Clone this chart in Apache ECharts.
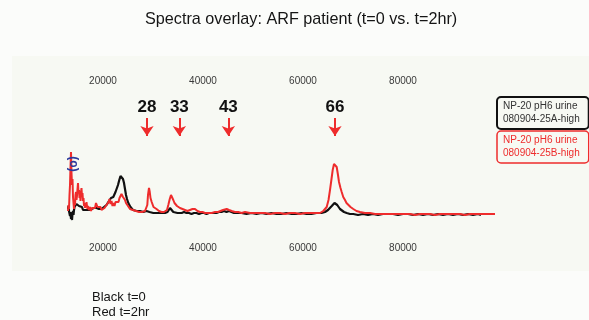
<!DOCTYPE html>
<html>
<head>
<meta charset="utf-8">
<script src="https://cdn.jsdelivr.net/npm/echarts@6/dist/echarts.min.js"></script>
<style>
  html, body { margin: 0; padding: 0; background: #fbfcfa; }
  #chart { width: 589px; height: 320px; }
</style>
</head>
<body>
<div id="chart"></div>
<script>
const FONT = "'Liberation Sans', Arial, sans-serif";

const blackName = 'NP-20 pH6 urine\n080904-25A-high';
const redName = 'NP-20 pH6 urine\n080904-25B-high';

const tickValues = [20000, 40000, 60000, 80000];

// peak annotations (kDa label, m/z position)
const peakLabels = ['28', '33', '43', '66'];
const peakMasses = [28800, 35270, 45070, 66400];

// t=0 spectrum [m/z, intensity]
const blackSpectrum = [
  [13000, 16], [13100, 19], [13200, 14], [13300, 12], [13400, 9], [13500, 13], [13600, 6],
  [13700, 9], [13800, 5], [13900, 11], [14000, 14], [14100, 10], [14200, 15], [14300, 18],
  [14400, 16], [14500, 19], [14600, 17], [14700, 21], [14800, 19], [14900, 23], [15000, 21],
  [15100, 22], [15200, 19], [15400, 20], [15600, 17], [15800, 18], [16000, 15], [16200, 16],
  [16400, 14], [16700, 15], [16900, 13], [17200, 15], [17400, 14], [17700, 16], [17900, 14],
  [18200, 17], [18400, 16], [18700, 17], [18900, 15], [19200, 16], [19400, 14], [19700, 16],
  [19900, 15], [20200, 18], [20400, 17], [20700, 20], [20900, 19], [21200, 24], [21400, 23],
  [21600, 27], [21800, 25], [22060, 28], [22300, 30], [22500, 33], [22740, 35], [23000, 40],
  [23260, 45], [23500, 49], [23740, 50], [24000, 46], [24200, 42], [24400, 36], [24600, 30],
  [24800, 26], [25060, 22], [25300, 20], [25500, 18], [25740, 17], [26000, 15], [26300, 16],
  [26740, 14], [27100, 13], [27400, 14], [27800, 12], [28060, 13], [28400, 12], [28700, 14],
  [29060, 15], [29300, 13], [29600, 14], [30060, 12], [30400, 13], [30700, 12], [31100, 13],
  [31400, 12], [31900, 12], [32400, 12], [32900, 13], [33200, 15], [33400, 17], [33700, 15],
  [34060, 13], [34400, 14], [34900, 12], [35300, 13], [35740, 12], [36200, 13], [36700, 12],
  [37200, 12], [37700, 11], [38200, 12], [38700, 12], [39200, 11], [39700, 12], [40200, 12],
  [40700, 11], [41200, 12], [41700, 12], [42200, 12], [42700, 12], [43200, 13], [43700, 13],
  [44200, 14], [44700, 13], [45200, 14], [45700, 13], [46200, 12], [46700, 12], [47700, 12],
  [48700, 11], [49700, 12], [50700, 11], [51700, 12], [52700, 11], [53700, 12], [54700, 11],
  [55700, 11], [56700, 12], [57700, 11], [58700, 11], [59700, 12], [60700, 11], [61700, 11],
  [62700, 12], [63700, 12], [64400, 13], [65000, 15], [65400, 17], [65750, 19], [66060, 21],
  [66300, 22], [66600, 22], [66850, 20], [67060, 18], [67400, 16], [67740, 14], [68200, 13],
  [68740, 12], [69400, 11], [70060, 11], [71000, 10], [72000, 11], [73000, 10], [74000, 11],
  [75000, 10], [76000, 11], [77000, 11], [78000, 11], [79000, 10], [80000, 11], [81000, 11],
  [82000, 10], [83000, 11], [84000, 10], [85000, 11], [86000, 10], [87000, 11], [88000, 10],
  [89000, 11], [90000, 10], [91000, 11], [92000, 10], [93000, 11], [94000, 10], [95000, 11],
  [95600, 10],
];

// t=2hr spectrum [m/z, intensity]
const redSpectrum = [
  [13000, 14], [13100, 20], [13200, 16], [13300, 30], [13400, 40], [13500, 58], [13600, 73],
  [13700, 52], [13800, 40], [13900, 46], [14000, 28], [14100, 22], [14200, 16], [14300, 24],
  [14400, 20], [14500, 30], [14600, 33], [14700, 25], [14800, 29], [14900, 36], [15000, 42],
  [15100, 32], [15200, 35], [15300, 27], [15400, 31], [15500, 24], [15600, 33], [15700, 37],
  [15800, 28], [15900, 32], [16000, 24], [16100, 27], [16200, 19], [16300, 22], [16400, 17],
  [16500, 21], [16600, 18], [16700, 23], [16800, 19], [16900, 16], [17000, 19], [17200, 15],
  [17400, 18], [17600, 14], [17800, 17], [18000, 15], [18200, 18], [18400, 17], [18600, 22],
  [18750, 24], [18900, 18], [19100, 20], [19300, 16], [19500, 18], [19700, 15], [19900, 17],
  [20100, 14], [20300, 17], [20500, 16], [20700, 20], [20900, 18], [21100, 23], [21300, 26],
  [21500, 21], [21700, 24], [21900, 19], [22100, 22], [22300, 19], [22500, 23], [22700, 21],
  [22900, 25], [23100, 23], [23300, 27], [23500, 29], [23700, 31], [23860, 33], [24000, 28],
  [24200, 30], [24400, 25], [24600, 22], [24800, 23], [25000, 19], [25200, 18], [25400, 16],
  [25600, 17], [25800, 15], [26000, 15], [26300, 13], [26600, 14], [26900, 12], [27200, 13],
  [27500, 12], [27800, 13], [28100, 13], [28400, 14], [28700, 16], [28860, 20], [29000, 30],
  [29200, 37], [29350, 33], [29500, 27], [29740, 23], [29900, 21], [30100, 18], [30400, 17],
  [30700, 16], [30900, 15], [31200, 14], [31400, 13], [31700, 13], [31900, 12], [32200, 13],
  [32400, 13], [32600, 14], [32800, 15], [33060, 20], [33350, 26], [33600, 30], [33850, 28],
  [34060, 25], [34300, 22], [34540, 20], [34800, 19], [35000, 18], [35400, 17], [35700, 17],
  [35900, 16], [36200, 16], [36400, 15], [36700, 15], [36900, 14], [37200, 15], [37400, 15],
  [37700, 16], [37900, 16], [38200, 15], [38400, 16], [38700, 15], [38900, 14], [39200, 14],
  [39400, 13], [39900, 13], [40400, 12], [41000, 12], [41740, 12], [42400, 13], [43000, 13],
  [43500, 14], [44000, 15], [44400, 16], [44740, 16], [45200, 15], [45740, 14], [46400, 13],
  [47060, 13], [47700, 12], [48400, 13], [49400, 12], [50400, 12], [51400, 12], [52400, 12],
  [53400, 11], [54400, 12], [55400, 12], [56400, 11], [57400, 12], [58400, 12], [59400, 11],
  [60400, 12], [61400, 12], [62400, 12], [63400, 12], [64060, 14], [64740, 18], [65100, 25],
  [65400, 35], [65700, 46], [65940, 55], [66200, 61], [66400, 63], [66600, 61], [66740, 58],
  [67000, 50], [67200, 43], [67500, 37], [67740, 33], [68050, 28], [68400, 25], [68700, 22],
  [69060, 20], [69500, 18], [70060, 16], [70700, 14], [71400, 13], [72400, 12], [73400, 12],
  [74400, 11], [75400, 11], [76400, 11], [77400, 11], [78400, 11], [79400, 11], [80400, 11],
  [81400, 11], [82400, 10], [83400, 11], [84400, 11], [85400, 11], [86400, 10], [87400, 11],
  [88400, 11], [89400, 11], [90400, 11], [91400, 11], [92400, 10], [93400, 11], [94400, 11],
  [95400, 11], [96400, 11], [97400, 11], [98400, 11],
];

const RED = '#ee2c2c';
const ARROW_TOP = 107;
const ARROW_TIP = 89;

const chart = echarts.init(document.getElementById('chart'), null, { renderer: 'canvas' });

const axisBase = {
  type: 'value',
  min: 1800,
  max: 117200,
  axisLine: { show: false },
  axisTick: { show: false },
  splitLine: { show: false },
  axisLabel: {
    customValues: tickValues,
    formatter: (v) => String(v),
    fontSize: 10,
    color: '#3a3a3a',
    fontFamily: FONT,
  },
};

const legendBase = {
  orient: 'vertical',
  left: 497,
  itemWidth: 0,
  itemHeight: 0,
  itemGap: 0,
  selectedMode: false,
  borderRadius: 4,
  padding: [3, 9, 3, 0],
  backgroundColor: '#f7f9f3',
};

chart.setOption({
  animation: false,
  backgroundColor: '#fbfcfa',
  textStyle: { fontFamily: FONT },
  title: [
    {
      text: 'Spectra overlay: ARF patient (t=0 vs. t=2hr)',
      left: 140,
      top: 7,
      textStyle: { fontSize: 16.2, fontWeight: 'normal', color: '#151515', fontFamily: FONT },
    },
    {
      text: 'Black t=0\nRed t=2hr',
      left: 87,
      top: 285,
      textStyle: { fontSize: 13, fontWeight: 'normal', color: '#151515', lineHeight: 15, fontFamily: FONT },
    },
  ],
  legend: [
    {
      ...legendBase,
      top: 97,
      data: [blackName],
      borderColor: '#111',
      borderWidth: 2,
      textStyle: { fontSize: 10, lineHeight: 13, color: '#333', fontFamily: FONT },
    },
    {
      ...legendBase,
      top: 131,
      data: [redName],
      borderColor: RED,
      borderWidth: 1.5,
      textStyle: { fontSize: 10, lineHeight: 13, color: RED, fontFamily: FONT },
    },
  ],
  grid: {
    left: 12,
    right: 0,
    top: 56,
    bottom: 49,
    show: true,
    backgroundColor: '#f7f9f3',
    borderWidth: 0,
  },
  xAxis: [
    { ...axisBase, position: 'top', axisLabel: { ...axisBase.axisLabel, inside: true, margin: 20 } },
    { ...axisBase, position: 'bottom', axisLabel: { ...axisBase.axisLabel, inside: true, margin: 18 } },
  ],
  yAxis: { type: 'value', min: -46, max: 169, show: false },
  series: [
    {
      name: blackName,
      type: 'line',
      xAxisIndex: 0,
      data: blackSpectrum,
      showSymbol: false,
      silent: true,
      itemStyle: { color: '#111' },
      lineStyle: { color: '#111', width: 2.2 },
    },
    {
      name: redName,
      type: 'line',
      xAxisIndex: 0,
      data: redSpectrum,
      showSymbol: false,
      silent: true,
      itemStyle: { color: RED },
      lineStyle: { color: RED, width: 2 },
      markLine: {
        silent: true,
        symbol: ['none', 'arrow'],
        symbolSize: 10,
        lineStyle: { color: RED, width: 2, type: 'solid' },
        label: {
          show: true,
          position: 'start',
          distance: 2,
          formatter: (p) => p.name,
          fontSize: 17,
          fontWeight: 'bold',
          color: '#111',
          fontFamily: FONT,
        },
        data: peakMasses.map((m, i) => [
          { name: peakLabels[i], coord: [m, ARROW_TOP] },
          { coord: [m, ARROW_TIP] },
        ]),
      },
      markPoint: {
        silent: true,
        symbol: 'circle',
        symbolSize: 0,
        label: {
          show: true,
          position: 'inside',
          formatter: '(o)',
          rotate: -90,
          fontSize: 12,
          fontWeight: 'bold',
          color: '#2b3a9c',
          fontFamily: FONT,
        },
        data: [{ coord: [14060, 61] }],
      },
    },
  ],
});
</script>
</body>
</html>
